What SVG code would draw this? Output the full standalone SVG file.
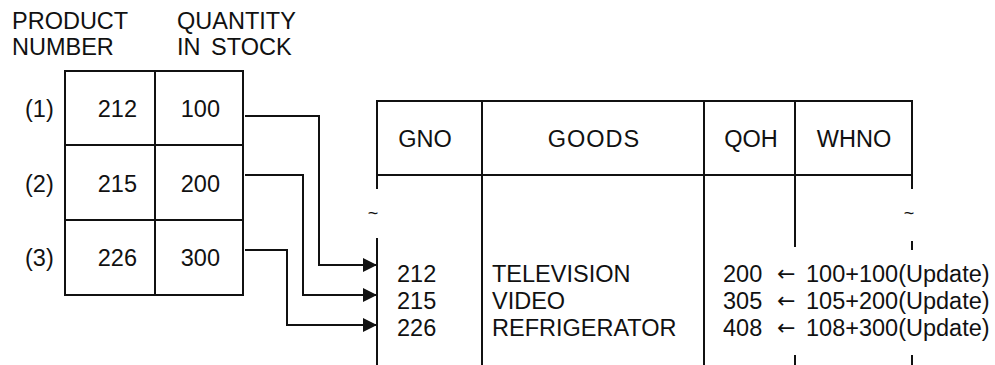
<svg xmlns="http://www.w3.org/2000/svg" width="995" height="365" viewBox="0 0 995 365">
<style>
text{font-family:"Liberation Sans",Arial,sans-serif;font-size:23.5px;fill:#111}
.ln{stroke:#111;stroke-width:2;fill:none}
.tl{font-size:18px}
.ar{font-family:"DejaVu Sans",sans-serif;font-size:22px}
</style>
<defs>
<marker id="ah" viewBox="0 0 14 14" refX="14" refY="7" markerWidth="14" markerHeight="14" markerUnits="userSpaceOnUse" orient="auto">
<path d="M0,0 L14,7 L0,14 z" fill="#111"/>
</marker>
</defs>
<rect width="995" height="365" fill="#fff"/>
<g id="labels">
<text x="12" y="29">PRODUCT</text>
<text x="12" y="55">NUMBER</text>
<text x="177" y="29">QUANTITY</text>
<text x="177" y="55" word-spacing="4">IN STOCK</text>
</g>
<g id="stock-table">
<rect class="ln" x="65" y="71" width="178" height="224"/>
<line class="ln" x1="155" y1="71" x2="155" y2="295"/>
<line class="ln" x1="65" y1="145" x2="243" y2="145"/>
<line class="ln" x1="65" y1="220" x2="243" y2="220"/>
</g>
<g id="row1">
<text x="25" y="117">(1)</text>
<text x="137" y="117" text-anchor="end">212</text>
<text x="220" y="117" text-anchor="end">100</text>
</g>
<g id="row2">
<text x="25" y="192">(2)</text>
<text x="137" y="192" text-anchor="end">215</text>
<text x="220" y="192" text-anchor="end">200</text>
</g>
<g id="row3">
<text x="25" y="266">(3)</text>
<text x="137" y="266" text-anchor="end">226</text>
<text x="220" y="266" text-anchor="end">300</text>
</g>
<g id="goods-table">
<polyline class="ln" points="377,189 377,101 912,101 912,189"/>
<line class="ln" x1="377" y1="175" x2="912" y2="175"/>
<line class="ln" x1="377" y1="238" x2="377" y2="365"/>
<line class="ln" x1="482" y1="101" x2="482" y2="365"/>
<line class="ln" x1="704" y1="101" x2="704" y2="365"/>
<line class="ln" x1="795" y1="101" x2="795" y2="247"/>
<line class="ln" x1="795" y1="355" x2="795" y2="365"/>
<line class="ln" x1="912" y1="241" x2="912" y2="250"/>
<line class="ln" x1="912" y1="355" x2="912" y2="365"/>
<text class="tl" x="373" y="219" text-anchor="middle">~</text>
<text class="tl" x="909" y="219" text-anchor="middle">~</text>
<text x="425" y="147" text-anchor="middle">GNO</text>
<text x="594" y="147" text-anchor="middle" letter-spacing="1">GOODS</text>
<text x="751" y="147" text-anchor="middle">QOH</text>
<text x="854" y="147" text-anchor="middle">WHNO</text>
</g>
<g id="data-rows">
<text x="397" y="282">212</text>
<text x="397" y="309">215</text>
<text x="397" y="336">226</text>
<text x="492" y="282">TELEVISION</text>
<text x="492" y="309">VIDEO</text>
<text x="492" y="336">REFRIGERATOR</text>
<text x="723" y="282">200</text>
<text x="723" y="309">305</text>
<text x="723" y="336">408</text>
<text class="ar" x="777" y="281">←</text>
<text class="ar" x="777" y="308">←</text>
<text class="ar" x="777" y="335">←</text>
<text x="806" y="282">100+100(Update)</text>
<text x="806" y="309">105+200(Update)</text>
<text x="806" y="336">108+300(Update)</text>
</g>
<g id="connectors">
<polyline class="ln" points="245,116 319,116 319,265 377,265" marker-end="url(#ah)"/>
<polyline class="ln" points="245,175 303,175 303,295 377,295" marker-end="url(#ah)"/>
<polyline class="ln" points="245,250 287,250 287,325 377,325" marker-end="url(#ah)"/>
</g>
</svg>
